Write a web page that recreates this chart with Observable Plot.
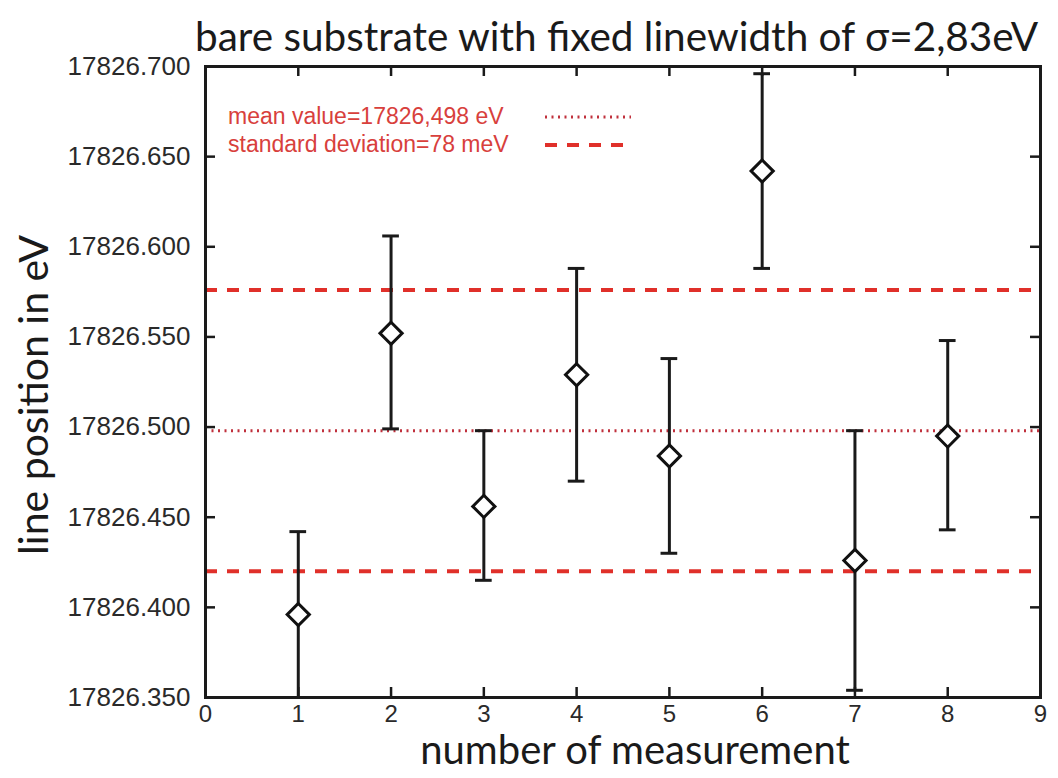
<!DOCTYPE html>
<html>
<head>
<meta charset="utf-8">
<script src="https://cdn.jsdelivr.net/npm/d3@7"></script>
<script src="https://cdn.jsdelivr.net/npm/@observablehq/plot@0.6"></script>
<style>
  html, body { margin: 0; padding: 0; background: #fff; }
  #wrap { position: relative; width: 1058px; height: 778px; overflow: hidden; background: #fff; }
  #title { position: absolute; left: 0; top: 16px; width: 1058px; padding-left: 195px; box-sizing: border-box; z-index: 3;
           font-family: Lato, "Open Sans", sans-serif; font-size: 40.5px; line-height: 40.5px; color: #1a1a1a; white-space: nowrap; }
  #chart { position: absolute; left: 0; top: 48px; z-index: 1; }
  #legend { position: absolute; left: 228px; top: 102px; z-index: 2; font-family: "Liberation Sans", Arial, sans-serif;
            font-size: 23px; color: #d8403c; }
  #legend .row { position: relative; height: 28px; line-height: 28px; white-space: nowrap; }
  #legend svg { position: absolute; left: 317px; top: 0; }
</style>
</head>
<body>
<div id="wrap">
  <div id="title"></div>
  <div id="chart"></div>
  <div id="legend"></div>
</div>
<script>
// ---- data ----
const measurement = [1, 2, 3, 4, 5, 6, 7, 8];
const linePosition = [17826.396, 17826.552, 17826.456, 17826.529, 17826.484, 17826.642, 17826.426, 17826.495];
const errorLow  = [17826.350, 17826.499, 17826.415, 17826.470, 17826.430, 17826.588, 17826.354, 17826.443];
const errorHigh = [17826.442, 17826.606, 17826.498, 17826.588, 17826.538, 17826.696, 17826.498, 17826.548];
const meanValue = 17826.498;
const standardDeviation = 0.078;
const xTicks = [0, 1, 2, 3, 4, 5, 6, 7, 8, 9];
const yTicks = [17826.35, 17826.40, 17826.45, 17826.50, 17826.55, 17826.60, 17826.65, 17826.70];
const titleText = "bare substrate with fixed linewidth of σ=2,83eV";
const xLabel = "number of measurement";
const yLabel = "line position in eV";
const legendLabels = ["mean value=17826,498 eV", "standard deviation=78 meV"];

// ---- build ----
const data = measurement.map((x, i) => ({x, y: linePosition[i], lo: errorLow[i], hi: errorHigh[i]}));
const W = 1058, H = 730, mL = 205, mR = 18, mT = 18, mB = 81;
const frameW = W - mL - mR, frameH = H - mT - mB;
const meanColor = "#c0303c";
const sdColor = "#e0302a";
const capHalf = 0.09;
const labelFont = "Lato, 'Open Sans', sans-serif";

document.getElementById("title").textContent = titleText;

const plot = Plot.plot({
  width: W, height: H,
  marginTop: mT, marginBottom: mB, marginLeft: mL, marginRight: mR,
  x: {domain: [0, 9]},
  y: {domain: [17826.35, 17826.70]},
  style: {fontFamily: "'Liberation Sans', Arial, sans-serif", fontSize: "26px", color: "#2a2a2a", background: "transparent", overflow: "visible"},
  marks: [
    Plot.ruleY([meanValue], {stroke: meanColor, strokeWidth: 3, strokeDasharray: "2,4.5"}),
    Plot.ruleY([meanValue - standardDeviation, meanValue + standardDeviation], {stroke: sdColor, strokeWidth: 4, strokeDasharray: "12,10"}),
    Plot.ruleX(data, {x: "x", y1: "lo", y2: "hi", stroke: "#1a1a1a", strokeWidth: 3}),
    Plot.ruleY(data, {y: "hi", x1: d => d.x - capHalf, x2: d => d.x + capHalf, stroke: "#1a1a1a", strokeWidth: 3}),
    Plot.ruleY(data, {y: "lo", x1: d => d.x - capHalf, x2: d => d.x + capHalf, stroke: "#1a1a1a", strokeWidth: 3}),
    Plot.dot(data, {x: "x", y: "y", symbol: "diamond2", r: 10, stroke: "#111", strokeWidth: 3, fill: "white"}),
    // inward ticks on all four sides
    Plot.tickX(xTicks, {x: d => d, insetTop: frameH - 10, stroke: "#1a1a1a", strokeWidth: 2.5}),
    Plot.tickX(xTicks, {x: d => d, insetBottom: frameH - 10, stroke: "#1a1a1a", strokeWidth: 2.5}),
    Plot.tickY(yTicks, {y: d => d, insetRight: frameW - 10, stroke: "#1a1a1a", strokeWidth: 2.5}),
    Plot.tickY(yTicks, {y: d => d, insetLeft: frameW - 10, stroke: "#1a1a1a", strokeWidth: 2.5}),
    Plot.axisX({anchor: "bottom", ticks: xTicks, tickSize: 0, tickPadding: 7, fontSize: 24, tickFormat: d3.format("d"), label: null}),
    Plot.axisY({anchor: "left", ticks: yTicks, tickSize: 0, tickPadding: 15, tickFormat: d3.format(".3f"), label: null}),
    Plot.frame({stroke: "#1a1a1a", strokeWidth: 3}),
    Plot.text([yLabel], {frameAnchor: "left", textAnchor: "middle", rotate: -90, dx: -171, dy: 13, fontSize: 41, fontFamily: labelFont, fill: "#1a1a1a"}),
    Plot.text([xLabel], {frameAnchor: "bottom", textAnchor: "middle", dy: 66, dx: 12, fontSize: 40, fontFamily: labelFont, fill: "#1a1a1a"})
  ]
});
document.getElementById("chart").appendChild(plot);

// legend
const legend = document.getElementById("legend");
const styles = [
  {stroke: meanColor, width: 3, dash: "2,4.5"},
  {stroke: sdColor, width: 4, dash: "12,10"}
];
legendLabels.forEach((t, i) => {
  const row = document.createElement("div");
  row.className = "row";
  row.textContent = t;
  const s = styles[i];
  row.insertAdjacentHTML("beforeend",
    `<svg width="86" height="28"><line x1="0" x2="86" y1="15" y2="15" stroke="${s.stroke}" stroke-width="${s.width}" stroke-dasharray="${s.dash}"/></svg>`);
  legend.appendChild(row);
});
</script>
</body>
</html>
